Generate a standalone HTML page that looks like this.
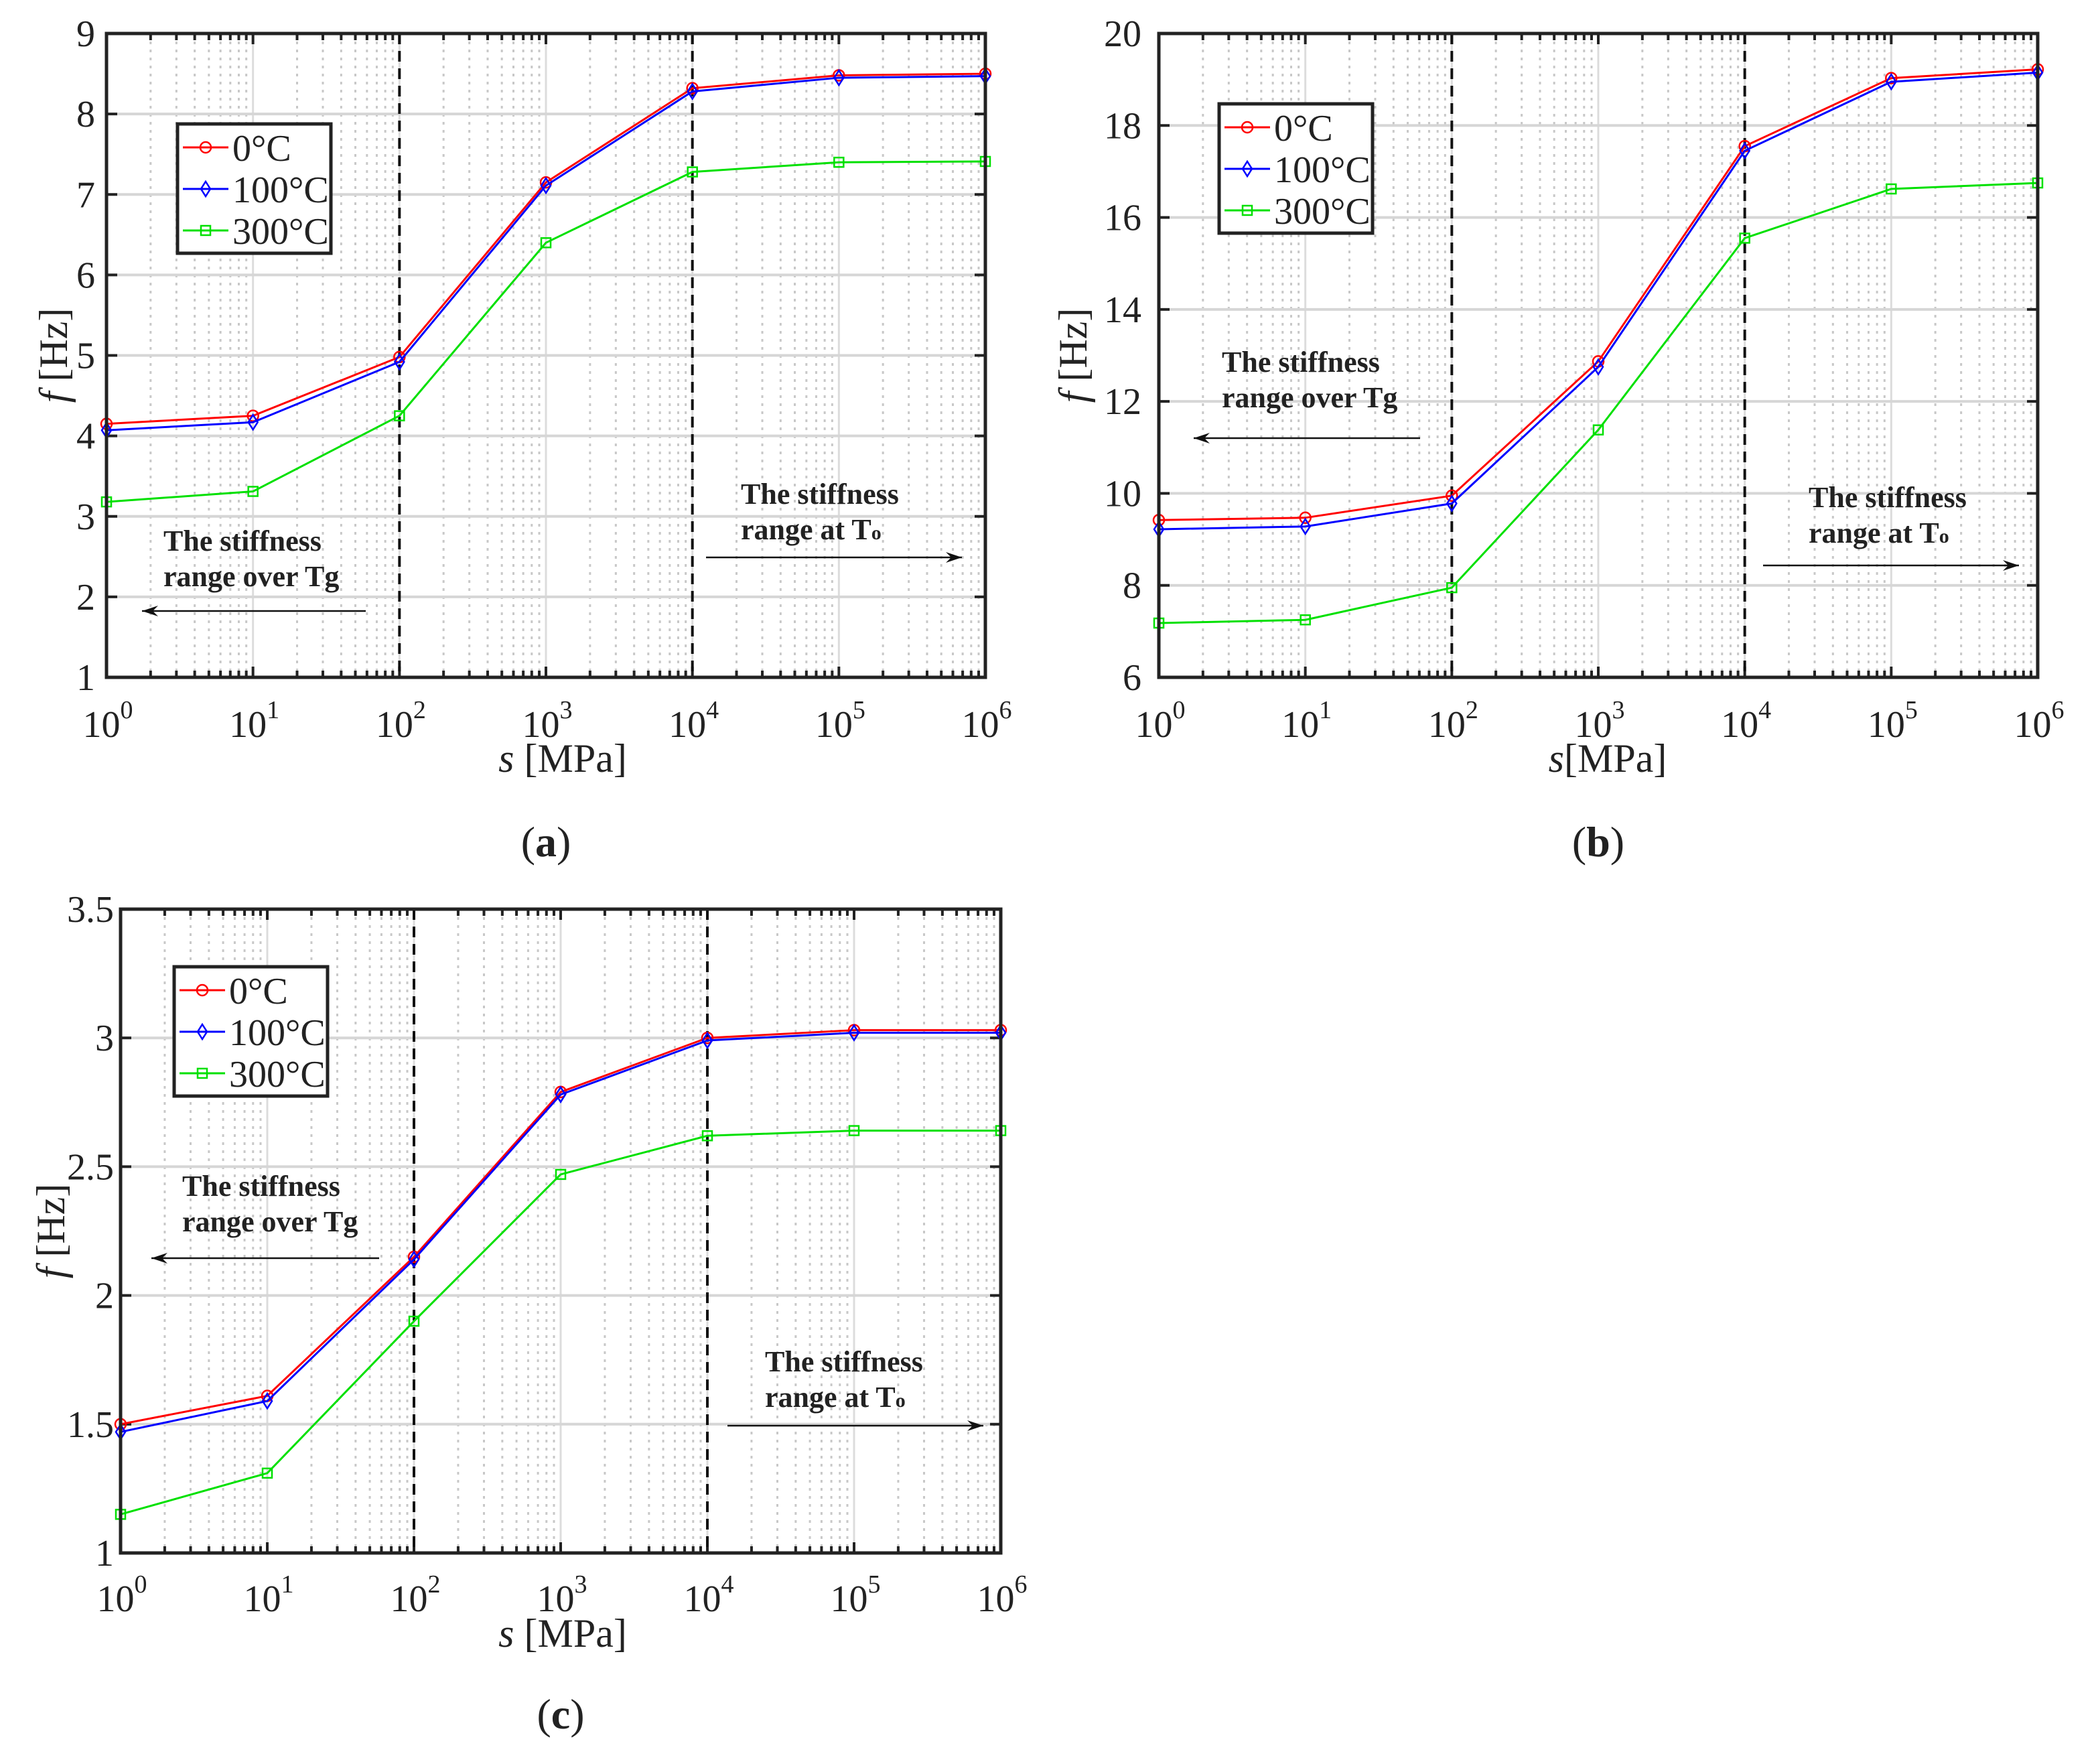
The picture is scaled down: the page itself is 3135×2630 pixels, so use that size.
<!DOCTYPE html>
<html><head><meta charset="utf-8"><style>
html,body{margin:0;padding:0;background:#fff}
svg{display:block}
text{font-family:"Liberation Serif",serif;fill:#222}
</style></head><body>
<svg id="fig" width="3135" height="2630" viewBox="0 0 3135 2630" xmlns="http://www.w3.org/2000/svg"></svg>
<script>
const xValues = [1, 10, 100, 1000, 10000, 100000, 1000000];
const xTickExps = [0, 1, 2, 3, 4, 5, 6];
const seriesNames = ["0°C", "100°C", "300°C"];
const aS0 = [4.15, 4.25, 4.98, 7.15, 8.32, 8.48, 8.50];
const aS100 = [4.07, 4.17, 4.92, 7.11, 8.28, 8.45, 8.47];
const aS300 = [3.18, 3.31, 4.25, 6.40, 7.28, 7.40, 7.41];
const aYTicks = [1, 2, 3, 4, 5, 6, 7, 8, 9];
const bS0 = [9.42, 9.47, 9.95, 12.87, 17.55, 19.03, 19.22];
const bS100 = [9.22, 9.28, 9.78, 12.75, 17.45, 18.95, 19.15];
const bS300 = [7.18, 7.25, 7.95, 11.38, 15.55, 16.62, 16.75];
const bYTicks = [6, 8, 10, 12, 14, 16, 18, 20];
const cS0 = [1.50, 1.61, 2.15, 2.79, 3.00, 3.03, 3.03];
const cS100 = [1.47, 1.59, 2.14, 2.78, 2.99, 3.02, 3.02];
const cS300 = [1.15, 1.31, 1.90, 2.47, 2.62, 2.64, 2.64];
const cYTicks = [1, 1.5, 2, 2.5, 3, 3.5];
const yTickLabelsC = ["1", "1.5", "2", "2.5", "3", "3.5"];

const NS = "http://www.w3.org/2000/svg";
const fig = document.getElementById('fig');
function el(tag, attrs, parent, txt){
  const e = document.createElementNS(NS, tag);
  for (const k in attrs) e.setAttribute(k, attrs[k]);
  if (txt !== undefined) e.textContent = txt;
  (parent || fig).appendChild(e);
  return e;
}
const colors = ["#ff0000", "#0000ff", "#00e000"];

function panel(cfg){
  const g = el('g', {});
  
  
  const L = cfg.L, T = cfg.T, R = cfg.R, B = cfg.B;
  const ymin = cfg.yTicks[0], ymax = cfg.yTicks[cfg.yTicks.length - 1];
  const sx = v => L + (Math.log10(v) - 0) / 6 * (R - L);
  const sy = v => B - (v - ymin) / (ymax - ymin) * (B - T);
  for (let d = 0; d < 6; d++) for (let m = 2; m <= 9; m++) {
    const x = sx(m * Math.pow(10, d));
    el('line', {x1: x, y1: T, x2: x, y2: B, stroke: '#c8c8c8', 'stroke-width': 3, 'stroke-dasharray': '4 8'}, g);
    el('line', {x1: x, y1: B, x2: x, y2: B - 10, stroke: '#222', 'stroke-width': 4}, g);
    el('line', {x1: x, y1: T, x2: x, y2: T + 10, stroke: '#222', 'stroke-width': 4}, g);
  }
  xTickExps.forEach(e => {
    const x = sx(Math.pow(10, e));
    el('line', {x1: x, y1: T, x2: x, y2: B, stroke: '#dcdcdc', 'stroke-width': 3}, g);
    el('line', {x1: x, y1: B, x2: x, y2: B - 16, stroke: '#222', 'stroke-width': 4}, g);
    el('line', {x1: x, y1: T, x2: x, y2: T + 16, stroke: '#222', 'stroke-width': 4}, g);
    const t = el('text', {x: x + 2, y: cfg.xLabY, 'font-size': 56, 'text-anchor': 'middle'}, g);
    
    
    el('tspan', {}, t, '10');
    el('tspan', {dy: -28, 'font-size': 38}, t, String(e));
  });
  cfg.yTicks.forEach((v, i) => {
    const y = sy(v);
    el('line', {x1: L, y1: y, x2: R, y2: y, stroke: '#d6d6d6', 'stroke-width': 4}, g);
    el('line', {x1: L, y1: y, x2: L + 16, y2: y, stroke: '#222', 'stroke-width': 4}, g);
    el('line', {x1: R, y1: y, x2: R - 16, y2: y, stroke: '#222', 'stroke-width': 4}, g);
    const t = el('text', {x: cfg.yLabX, y: y + 19, 'font-size': 56, 'text-anchor': 'end'}, g, cfg.yLabels ? cfg.yLabels[i] : String(v));
    
    
  });
  [100, 10000].forEach(v => {
    const x = sx(v);
    const d = el('line', {x1: x, y1: T, x2: x, y2: B, stroke: '#111', 'stroke-width': 4, 'stroke-dasharray': '16 10'}, g);
    
    
  });
  cfg.series.forEach((s, k) => {
    const pts = s.map((v, i) => sx(xValues[i]) + ',' + sy(v)).join(' ');
    const pl = el('polyline', {points: pts, fill: 'none', stroke: colors[k], 'stroke-width': 3}, g);
    
    
    s.forEach((v, i) => marker(g, k, sx(xValues[i]), sy(v)));
  });
  const box = el('rect', {x: L, y: T, width: R - L, height: B - T, fill: 'none', stroke: '#222', 'stroke-width': 5}, g);
  
  
  const lg = el('g', {}, g);
  
  
  el('rect', {x: cfg.lgX, y: cfg.lgY, width: 229, height: 193, fill: '#fff', stroke: '#222', 'stroke-width': 5}, lg);
  seriesNames.forEach((n, k) => {
    const y = cfg.lgY + 35 + k * 62;
    el('line', {x1: cfg.lgX + 8, y1: y, x2: cfg.lgX + 76, y2: y, stroke: colors[k], 'stroke-width': 3}, lg);
    marker(lg, k, cfg.lgX + 42, y);
    const t = el('text', {x: cfg.lgX + 82, y: y + 20, 'font-size': 56}, lg, n);
    
    
  });
  function annot(x, y, arrowX1, arrowX2, arrowY, lines, name){
    const a = el('g', {}, g);
    
    
    el('text', {x: x, y: y, 'font-size': 44, 'font-weight': 'bold'}, a, lines[0]);
    const t2 = el('text', {x: x, y: y + 53, 'font-size': 44, 'font-weight': 'bold'}, a, lines[1]);
    if (lines[2]) el('tspan', {'font-size': 30}, t2, lines[2]);
    el('line', {x1: arrowX1, y1: arrowY, x2: arrowX2, y2: arrowY, stroke: '#111', 'stroke-width': 2.5}, a);
    const dir = arrowX2 > arrowX1 ? 1 : -1;
    el('path', {d: `M${arrowX2} ${arrowY} L${arrowX2 - dir * 24} ${arrowY - 8} L${arrowX2 - dir * 16} ${arrowY} L${arrowX2 - dir * 24} ${arrowY + 8}Z`, fill: '#111'}, a);
  }
  annot(cfg.a1[0], cfg.a1[1], cfg.a1[2], cfg.a1[3], cfg.a1[4], ["The stiffness", "range over Tg"], 'annotation-over-tg');
  annot(cfg.a2[0], cfg.a2[1], cfg.a2[2], cfg.a2[3], cfg.a2[4], ["The stiffness", "range at T", "o"], 'annotation-at-t0');
  const xt = el('text', {x: cfg.xTitleX, y: cfg.xTitleY, 'font-size': 60, 'text-anchor': 'middle'}, g);
  
  
  el('tspan', {'font-style': 'italic'}, xt, 's');
  el('tspan', {}, xt, cfg.xTitleGap ? ' [MPa]' : '[MPa]');
  const yt = el('text', {x: 0, y: 0, 'font-size': 60, 'text-anchor': 'middle', transform: `translate(${cfg.yTitleX},${(T + B) / 2}) rotate(-90)`}, g);
  
  
  el('tspan', {'font-style': 'italic'}, yt, 'f');
  el('tspan', {}, yt, ' [Hz]');
  const cap = el('text', {x: (L + R) / 2, y: cfg.capY, 'font-size': 64, 'text-anchor': 'middle', 'font-family': '"Liberation Sans",sans-serif'}, g);
  
  
  el('tspan', {}, cap, '(');
  el('tspan', {'font-weight': 'bold'}, cap, cfg.id);
  el('tspan', {}, cap, ')');
}
function marker(g, k, x, y){
  let m;
  if (k === 0) m = el('circle', {cx: x, cy: y, r: 8, fill: 'none', stroke: colors[0], 'stroke-width': 2.5}, g);
  else if (k === 1) m = el('path', {d: `M${x} ${y - 11} L${x + 7} ${y} L${x} ${y + 11} L${x - 7} ${y}Z`, fill: 'none', stroke: colors[1], 'stroke-width': 2.5}, g);
  else m = el('rect', {x: x - 7, y: y - 7, width: 14, height: 14, fill: 'none', stroke: colors[2], 'stroke-width': 2.5}, g);
  
  
}
panel({id: 'a', L: 159, T: 50, R: 1471, B: 1011, yTicks: aYTicks, series: [aS0, aS100, aS300],
  xLabY: 1100, yLabX: 142, lgX: 265, lgY: 185, xTitleX: 840, xTitleY: 1152, xTitleGap: true, yTitleX: 100, capY: 1278,
  a1: [244, 822, 546, 212, 912], a2: [1106, 752, 1054, 1436, 832]});
panel({id: 'b', L: 1730, T: 50, R: 3042, B: 1011, yTicks: bYTicks, series: [bS0, bS100, bS300],
  xLabY: 1100, yLabX: 1704, lgX: 1820, lgY: 155, xTitleX: 2400, xTitleY: 1152, xTitleGap: false, yTitleX: 1622, capY: 1278,
  a1: [1824, 555, 2120, 1782, 654], a2: [2700, 757, 2632, 3014, 844]});
panel({id: 'c', L: 180, T: 1357, R: 1494, B: 2318, yTicks: cYTicks, yLabels: yTickLabelsC, series: [cS0, cS100, cS300],
  xLabY: 2405, yLabX: 170, lgX: 260, lgY: 1443, xTitleX: 840, xTitleY: 2458, xTitleGap: true, yTitleX: 96, capY: 2580,
  a1: [272, 1785, 566, 226, 1878], a2: [1142, 2047, 1086, 1468, 2128]});
</script>
</body></html>
